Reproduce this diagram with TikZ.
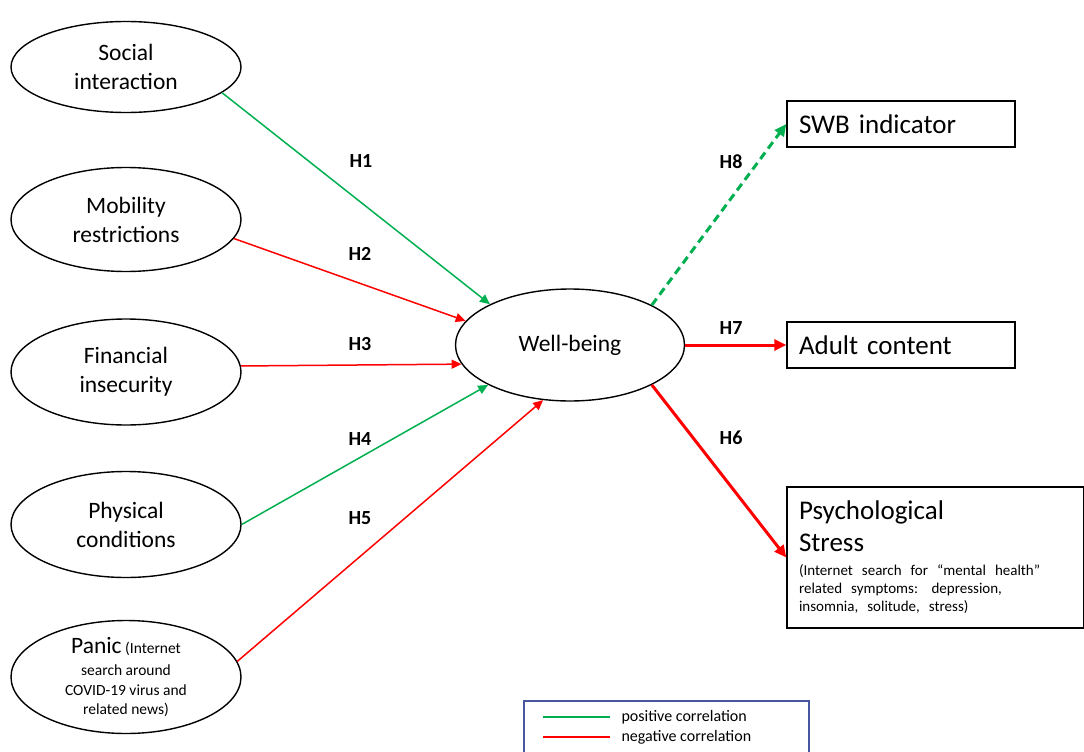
\documentclass[tikz,border=0pt]{standalone}
\usepackage{fontspec}
\setmainfont{Carlito}
\usepackage{tikz}
\usetikzlibrary{arrows.meta, shapes, positioning}

\definecolor{posgreen}{RGB}{0,176,80}
\definecolor{negred}{RGB}{255,0,0}
\definecolor{legendblue}{RGB}{72,88,160}

\begin{document}
\begin{tikzpicture}[->,>={Triangle[length=10pt,width=9pt]},x=1pt,y=-1pt,node distance=152.5pt,
                    factor/.style={ellipse,draw,line width=1.4pt,minimum width=230pt,
                                   inner sep=0pt,align=center,font=\fontsize{23.5}{29}\selectfont},
                    outcome/.style={rectangle,draw,line width=1.4pt,inner xsep=12pt,
                                    align=left,font=\fontsize{27}{32}\selectfont},
                    hyp/.style={font=\fontsize{20}{24}\selectfont\bfseries}]
  \tikzstyle{pos line}=[draw=posgreen,line width=1.5pt]
  \tikzstyle{neg line}=[draw=negred,line width=1.5pt]
  \tikzstyle{main line}=[line width=3pt,>={Triangle[length=12pt,width=11pt]}]
  \useasboundingbox (0,0) rectangle (1084,752);

  % factors
  \node[factor,minimum height=91pt]  (soc)   at (126,67)    {Social\\interaction};
  \node[factor,minimum height=104pt] (mob)   [below of=soc] {Mobility\\restrictions};
  \node[factor,minimum height=106pt] (fin)   [below of=mob] {Financial\\insecurity};
  \node[factor,minimum height=106pt] (phys)  [below of=fin] {Physical\\conditions};
  \node[factor,minimum height=113pt,font=\fontsize{15.5}{19.5}\selectfont]
                                     (panic) [below of=phys]
        {{\fontsize{23.5}{29}\selectfont Panic} (Internet\\[3pt]search around\\COVID-19 virus and\\related news)};
  \node[factor,minimum width=229pt,minimum height=112pt] (wb) at (570,345) {Well-being};

  % outcomes
  \node[outcome,text width=204pt,minimum height=46pt]  (swb)   at (901,124) {SWB indicator};
  \node[outcome,text width=204pt,minimum height=46pt]  (adult) at (901,345) {Adult content};
  \node[outcome,text width=273pt,minimum height=141pt] (psych) at (935.5,557.5)
        {Psychological\\Stress\par\vspace{6pt}
         {\fontsize{15}{18}\selectfont (Internet search for “mental health”\\related symptoms: depression,\\insomnia, solitude, stress)\par}};

  \path (soc.-15)   edge[pos line] (wb.153)
        (mob.-10)   edge[neg line] (wb.167)
        (fin.3)     edge[neg line] (wb.190)
        (phys.east) edge[pos line] (wb.206)
        (panic.8)   edge[neg line] (wb.244);

  \path (wb.26.6) edge[main line,draw=posgreen,dash pattern=on 8pt off 5pt] (swb.west)
        (wb.east) edge[main line,draw=negred] (adult.west)
        (wb.-26)  edge[main line,draw=negred] (psych.west);

  % hypotheses
  \node[hyp] (h1) at (361,161) {H1};
  \node[hyp] (h2) at (360,254) {H2};
  \node[hyp] (h3) at (360,344) {H3};
  \node[hyp] (h4) at (360,439) {H4};
  \node[hyp] (h5) at (360,518) {H5};
  \node[hyp] (h8) at (731,162) {H8};
  \node[hyp] (h7) at (731,328) {H7};
  \node[hyp] (h6) at (731,438) {H6};

  % legend
  \draw[-,draw=legendblue,line width=1.2pt] (524,701) rectangle (809,756);
  \coordinate (gs) at (543,717);
  \coordinate (ge) at (610,717);
  \coordinate (rs) at (543,737);
  \coordinate (re) at (610,737);
  \draw[-,pos line] (gs) -- (ge);
  \draw[-,neg line] (rs) -- (re);
  \node[anchor=west,font=\fontsize{16}{19}\selectfont] (lpos) at (618,717) {positive correlation};
  \node[anchor=west,font=\fontsize{16}{19}\selectfont] (lneg) at (618,737) {negative correlation};
\end{tikzpicture}
\end{document}
